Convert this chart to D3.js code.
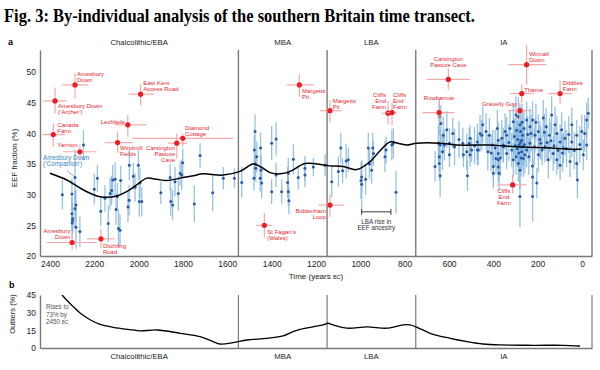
<!DOCTYPE html>
<meta charset="utf-8">
<head>
<style>
  body { margin: 0; background: #fff; }
  text { font-family: "Liberation Sans", Arial, sans-serif; }
  .title { font-family: "Liberation Serif", serif; font-weight: bold; }
  .axis text { font-size: 8.5px; fill: #222; }
  .axis path { stroke: #7a7a7a; stroke-width: 1.4px; }
  .site { font-size: 6px; fill: #e8262e; }
</style>
</head>
<body>
<script src="https://d3js.org/d3.v7.min.js"></script>
<script>
// ---- data ----
var periods = ["Chalcolithic/EBA", "MBA", "LBA", "IA"];
var periodBreaks = [2445, 1550, 1150, 750, -45];
var yearTicks = [2400, 2200, 2000, 1800, 1600, 1400, 1200, 1000, 800, 600, 400, 200, 0];
var eefTicks = [20, 25, 30, 35, 40, 45, 50];
var outlierTicks = [0, 15, 30, 45];

// smoothed EEF trend (black line, panel a)
var trendYears = [2400, 2324, 2251, 2189, 2144, 2099, 2054, 2009, 1963, 1918, 1873, 1813, 1753, 1710, 1619, 1543, 1484, 1452, 1407, 1362, 1317, 1250, 1197, 1137, 1078, 1016, 956, 908, 866, 821, 791, 746, 640, 565, 415, 295, 189, 39, 1];
var trendEEF = [33.5, 32.4, 30.8, 29.8, 29.6, 29.8, 30.5, 31.6, 32.7, 32.5, 32.3, 32.7, 33.1, 33.4, 33.2, 33.8, 35.0, 34.6, 33.6, 33.4, 33.8, 35.1, 35.0, 34.7, 34.6, 34.1, 35.4, 37.3, 38.6, 38.3, 38.1, 38.4, 38.4, 38.1, 38.1, 37.8, 37.7, 37.4, 37.4];

// outlier fraction (panel b)
var outlierYears = [2450, 2400, 2345, 2300, 2260, 2219, 2174, 2115, 2025, 1994, 1917, 1813, 1723, 1664, 1633, 1574, 1511, 1421, 1349, 1304, 1272, 1213, 1168, 1146, 1123, 1060, 970, 880, 807, 776, 744, 685, 595, 518, 447, 370, 221, 86, 9];
var outlierPct = [73, 60, 45, 36, 29, 24, 20, 17.6, 15.3, 14.5, 15.3, 12.5, 9.6, 5.4, 3.4, 4.5, 6.8, 8.2, 10.2, 13.9, 15.9, 18, 19.6, 21, 19.6, 16.8, 18, 16.8, 19.6, 19.6, 17.6, 12.5, 8.2, 5.4, 3.4, 2.6, 2.3, 2.3, 1.7];

// individuals: [year BC, EEF %, +/- error]
var samples = [
  [2344,30.0,2.4],[2301,30.1,2.5],[2301,26.9,2.8],[2298,26.1,2.5],[2298,25.8,2.2],[2300,25.4,2.5],
  [2287,27.7,3.0],[2283,28.3,2.6],[2283,24.7,3.5],[2265,24.0,2.5],[2287,32.8,4.5],[2249,38.1,2.5],
  [2186,32.7,2.2],[2200,30.9,2.5],[2171,27.3,2.4],[2152,29.4,2.2],[2137,25.3,3.0],[2129,30.2,2.6],
  [2122,30.7,2.4],[2117,32.4,2.5],[2106,32.5,2.8],[2102,27.6,2.5],[2096,29.7,2.2],[2091,24.5,3.0],
  [2084,24.2,2.6],[2081,32.3,2.4],[2048,28.0,2.5],[2043,29.1,2.5],[2042,34.8,2.5],[2024,33.0,2.2],
  [2016,31.2,2.3],[2001,34.8,2.4],[1997,28.9,2.5],[1986,28.9,2.4],[1994,31.9,2.5],[1900,30.3,1.8],
  [1858,32.8,2.2],[1855,28.9,2.3],[1847,28.3,2.5],[1836,32.1,2.4],[1821,30.2,2.8],[1813,33.5,2.0],
  [1806,33.2,2.5],[1801,35.2,2.3],[1749,28.5,3.0],[1723,36.4,2.0],[1666,30.3,3.0],[1618,32.7,1.8],
  [1568,32.7,1.6],
  [1535,32.0,2.5],[1480,32.7,2.0],[1475,35.0,2.5],[1472,34.3,2.2],[1467,36.2,2.5],[1475,40.3,2.8],
  [1478,37.3,2.5],[1450,37.6,2.6],[1452,32.7,2.2],[1448,34.0,2.4],[1445,31.9,2.5],[1400,38.4,2.8],
  [1380,39.1,2.7],[1400,30.5,2.0],[1380,33.2,2.0],[1355,30.5,2.0],[1328,32.0,2.5],[1325,30.5,2.4],
  [1322,29.0,2.2],[1325,33.5,2.5],[1302,35.8,2.5],[1280,32.8,2.0],[1250,34.3,2.0],[1250,33.2,2.0],
  [1212,34.5,1.5],
  [1159,34.8,1.8],[1129,32.1,2.5],[1099,33.8,2.5],[1088,37.6,2.5],[1080,33.9,2.0],[1064,35.5,2.8],
  [1054,35.7,2.0],[994,32.9,2.5],[997,32.3,3.0],[994,31.7,4.0],[976,32.5,2.5],[964,37.6,2.5],
  [944,37.6,2.5],[959,35.0,2.5],[949,34.0,2.2],[941,36.7,2.0],[889,36.2,2.5],[884,37.3,2.2],
  [858,38.1,2.5],[851,38.4,2.5],[839,30.4,3.5],
  [663,34.6,2.5],[648,38.4,3.0],[644,42.7,3.0],[637,41.6,3.0],[626,39.7,3.0],[621,38.1,2.5],
  [644,35.1,2.8],[640,33.1,3.5],[644,36.2,2.5],[640,38.1,2.5],[630,37.0,3.0],[610,40.6,3.0],
  [598,38.4,2.5],[583,40.0,2.5],[598,36.5,2.0],[575,37.8,3.0],[555,39.0,3.0],[538,38.4,2.5],
  [535,36.5,2.0],[520,37.0,3.0],[517,33.1,2.5],[509,38.4,2.5],[505,39.2,2.2],[505,36.5,2.0],
  [498,37.3,2.0],[485,38.0,3.0],[472,38.6,3.0],[468,37.3,2.5],[472,37.3,2.5],[460,40.0,3.0],
  [452,39.7,2.5],[448,41.4,3.0],[433,40.3,3.0],[425,37.0,3.0],[418,39.7,2.8],[410,36.8,3.0],
  [403,38.1,2.5],[400,34.6,2.5],[400,33.5,2.5],[392,37.6,3.0],[388,35.9,2.5],[382,40.8,3.0],
  [378,38.9,3.0],[378,36.7,2.5],[378,35.7,2.5],[378,34.5,2.5],[374,33.5,2.8],[368,36.0,3.0],
  [362,39.2,3.0],[355,38.1,2.8],[355,37.8,2.5],[347,40.3,3.0],[340,39.7,3.0],[340,36.7,2.5],
  [330,38.5,3.0],[325,40.8,3.0],[317,37.3,2.8],[310,41.9,3.0],[310,35.7,2.8],[305,39.5,3.0],
  [300,38.0,3.0],[298,43.0,3.0],[298,36.2,3.0],[295,40.5,3.0],[292,37.5,3.0],[290,39.0,3.0],
  [287,42.7,3.2],[287,35.1,3.0],[285,36.8,3.0],[283,38.1,3.0],[280,41.4,3.0],[280,34.0,3.0],
  [280,29.7,5.0],[278,38.5,3.2],[277,40.3,3.0],[275,36.0,3.0],[272,38.9,3.0],[272,37.0,3.0],
  [270,41.8,3.0],[268,39.7,3.0],[268,37.8,3.0],[265,35.9,3.0],[262,40.8,3.0],[260,38.2,3.0],
  [258,36.5,3.0],[250,42.2,3.0],[250,37.3,2.8],[245,39.8,3.0],[240,36.2,3.0],[235,41.1,3.0],
  [235,38.4,3.0],[230,40.0,3.0],[223,42.2,3.0],[223,34.7,3.0],[223,32.9,3.0],[223,29.7,4.0],
  [215,37.8,3.0],[212,39.7,2.8],[208,41.8,3.0],[204,31.9,2.5],[197,40.3,2.8],[197,36.5,2.8],
  [190,39.0,3.0],[186,38.4,2.8],[180,37.3,2.5],[175,42.5,3.0],[170,40.2,3.0],[167,37.8,2.5],
  [162,41.1,3.0],[158,38.5,3.0],[152,35.7,3.0],[147,39.7,2.8],[140,38.8,3.0],[137,43.0,3.0],
  [130,36.7,2.8],[126,38.0,3.0],[122,41.4,3.0],[114,40.0,2.8],[114,35.7,2.5],[108,37.2,3.0],
  [99,38.6,2.8],[99,34.8,2.5],[92,40.6,2.8],[88,36.8,3.0],[84,37.6,2.5],[77,39.2,2.8],
  [70,37.5,3.0],[60,39.8,3.0],[54,35.4,2.5],[46,41.4,2.8],[46,38.6,2.5],[35,37.2,3.0],
  [24,39.7,2.5],[24,35.1,2.5],[21,32.4,3.0],[10,38.2,3.0],[1,40.3,2.8],[-6,36.5,2.5],
  [-12,40.0,3.0],[-21,42.2,2.8],[-21,38.1,2.5],[-28,43.3,2.5]
];

// named outlier sites (red)
var siteNames = ["Amesbury\nDown", "Amesbury Down\n(\u2018Archer\u2019)", "Canada\nFarm", "Yarnton",
  "East Kent\nAccess Road", "Lechlade", "Windmill\nFields", "Carsington\nPasture\nCave", "Diamond\nCottage",
  "Amesbury\nDown", "Ditchling\nRoad", "Margetts\nPit", "Margetts\nPit", "St Fagan\u2019s\n(Wales)",
  "Biddenham\nLoop", "Cliffs\nEnd\nFarm", "Cliffs\nEnd\nFarm", "Carsington\nPasture Cave", "Rowbarrow",
  "Winnall\nDown", "Thame", "Dibbles\nFarm", "Gravelly Guy", "Cliffs\nEnd\nFarm"];
var siteYears = [2287, 2377, 2385, 2265, 1991, 2049, 2095, 1828, 1801, 2300, 2170, 1275, 1137, 1433, 1137, 875, 857, 603, 645, 250, 272, 99, 280, 313];
var siteEEF = [47.9, 45.3, 39.8, 37.0, 46.4, 41.4, 38.5, 38.4, 39.2, 22.2, 22.8, 47.9, 43.7, 25.0, 28.3, 43.3, 43.4, 48.8, 43.4, 51.2, 46.5, 46.5, 43.7, 31.6];
var siteYearLo = [2347, 2430, 2434, 2341, 2046, 2106, 2152, 1867, 2029, 2415, 2232, 1332, 1182, 1470, 1189, 905, 880, 700, 720, 332, 325, 152, 332, 382];
var siteYearHi = [2227, 2324, 2332, 2189, 1931, 1963, 2027, 1782, 1574, 2189, 2107, 1209, 1084, 1400, 1074, 845, 835, 505, 577, 162, 220, 46, 227, 250];
var siteEEFLo = [45.7, 43.3, 37.8, 35.8, 44.6, 39.5, 36.8, 35.9, 37.8, 21.0, 21.3, 46.0, 41.8, 23.0, 26.4, 41.5, 41.3, 47.1, 41.9, 47.9, 45.0, 44.8, 42.2, 30.2];
var siteEEFHi = [49.8, 47.5, 41.6, 38.2, 48.0, 43.0, 40.3, 40.0, 40.0, 24.0, 24.4, 49.6, 45.4, 27.0, 30.0, 45.3, 45.0, 50.6, 45.2, 54.4, 48.0, 48.6, 45.0, 33.2];

var riseYears = [994, 862];
var riseEEF = 27.2;

// ---- layout ----
var labelPos = [["start",2,-8.5],["start",3,7.6],["start",4,-7.8],["end",-2,-4.7],["start",2.6,-8.8],
  ["end",-2.7,-0.5],["start",2.3,7.7],["end",-1.7,6.7],["start",2.3,-8.3],["end",-1.7,-10],
  ["start",2,9],["start",2.7,8.3],["start",2.7,-8],["start",3,8.2],["end",-4,8],
  ["end",-2,-16.3],["start",1,-15.3],["middle",0,-18],["middle",0,-12.8],["start",2.6,-8.5],
  ["start",2.6,-1.8],["start",2.7,-8.3],["end",-3.3,-4.2],["middle",-8.7,8.3]];

var W = 600, H = 370;
var svg = d3.select("body").append("svg").attr("width", W).attr("height", H);

svg.append("text").attr("class", "title")
  .attr("x", 4).attr("y", 22)
  .attr("textLength", 471).attr("lengthAdjust", "spacingAndGlyphs")
  .style("font-size", "19px")
  .text("Fig. 3: By-individual analysis of the southern Britain time transect.");

var x = d3.scaleLinear().domain([2445, -45]).range([40, 592]);
var yA = d3.scaleLinear().domain([20, 53.6]).range([256, 50]);
var yB = d3.scaleLinear().domain([0, 45]).range([348, 295]);

var red = "#ee1c25", redLight = "#f6a9a9", blue = "#2a5ba6", blueLight = "#86b8e0", grey = "#7a7a7a";

// ---- panel a ----
var a = svg.append("g");

a.append("text").attr("x", 8).attr("y", 45).style("font-size", "9px").style("font-weight", "bold").text("a");

a.selectAll(".period").data(periods).enter().append("text")
  .attr("x", function(d, i) { return (x(periodBreaks[i]) + x(periodBreaks[i + 1])) / 2; })
  .attr("y", 44.5).attr("text-anchor", "middle").style("font-size", "7.8px").style("fill", "#222")
  .text(function(d) { return d; });

a.append("g").attr("class", "axis").attr("transform", "translate(0,256)")
  .call(d3.axisBottom(x).tickValues(yearTicks).tickFormat(d3.format("d")).tickSize(0).tickSizeOuter(0).tickPadding(5));
a.append("g").attr("class", "axis").attr("transform", "translate(40,0)")
  .call(d3.axisLeft(yA).tickValues(eefTicks).tickSize(0).tickSizeOuter(0).tickPadding(4));

a.selectAll(".sep").data(periodBreaks.slice(1)).enter().append("line")
  .attr("x1", function(d) { return x(d); }).attr("x2", function(d) { return x(d); })
  .attr("y1", yA(53.6)).attr("y2", yA(20))
  .style("stroke", grey).style("stroke-width", 1.4);

a.append("text").attr("x", 316).attr("y", 279).attr("text-anchor", "middle")
  .style("font-size", "8px").style("fill", "#222")
  .text("Time (years ").append("tspan").style("font-size", "5.5px").text("BC")
  .select(function() { return this.parentNode; }).append("tspan").text(")");

a.append("text").attr("transform", "translate(17,158) rotate(-90)").attr("text-anchor", "middle")
  .style("font-size", "8px").style("fill", "#222").text("EEF fraction (%)");

// individuals
a.selectAll(".err").data(samples).enter().append("line")
  .attr("x1", function(d) { return x(d[0]); }).attr("x2", function(d) { return x(d[0]); })
  .attr("y1", function(d) { return yA(d[1] - d[2]); }).attr("y2", function(d) { return yA(d[1] + d[2]); })
  .style("stroke", blueLight).style("stroke-width", 1.3).style("opacity", 0.85);
a.selectAll(".pt").data(samples).enter().append("circle")
  .attr("cx", function(d) { return x(d[0]); }).attr("cy", function(d) { return yA(d[1]); })
  .attr("r", 1.5).style("fill", blue);

// trend line
var trend = trendYears.map(function(t, i) { return [t, trendEEF[i]]; });
a.append("path").datum(trend)
  .attr("d", d3.line().x(function(d) { return x(d[0]); }).y(function(d) { return yA(d[1]); }).curve(d3.curveCatmullRom))
  .style("fill", "none").style("stroke", "#000").style("stroke-width", 1.5);

// companion label (blue)
var comp = a.append("g").style("fill", "#3b86c4").style("font-size", "6.3px");
comp.append("text").attr("x", 43).attr("y", 159.5).text("Amesbury Down");
comp.append("text").attr("x", 43).attr("y", 166).text("(\u2018Companion\u2019)");
a.append("line").attr("x1", 67).attr("y1", 170.5).attr("x2", x(2287) - 1.5).attr("y2", yA(32.8) - 1.5)
  .style("stroke", "#3b86c4").style("stroke-width", 0.7);

// red sites
var sites = siteNames.map(function(n, i) { return i; });
var sg = a.selectAll(".siteg").data(sites).enter().append("g");
sg.append("line")
  .attr("x1", function(i) { return x(siteYearLo[i]); }).attr("x2", function(i) { return x(siteYearHi[i]); })
  .attr("y1", function(i) { return yA(siteEEF[i]); }).attr("y2", function(i) { return yA(siteEEF[i]); })
  .style("stroke", redLight).style("stroke-width", 1.2);
sg.append("line")
  .attr("x1", function(i) { return x(siteYears[i]); }).attr("x2", function(i) { return x(siteYears[i]); })
  .attr("y1", function(i) { return yA(siteEEFLo[i]); }).attr("y2", function(i) { return yA(siteEEFHi[i]); })
  .style("stroke", redLight).style("stroke-width", 1.2);
sg.append("circle")
  .attr("cx", function(i) { return x(siteYears[i]); }).attr("cy", function(i) { return yA(siteEEF[i]); })
  .attr("r", 2.6).style("fill", red);
sg.each(function(i) {
  var p = labelPos[i];
  var t = d3.select(this).append("text").attr("class", "site").attr("text-anchor", p[0]);
  siteNames[i].split("\n").forEach(function(line, k) {
    t.append("tspan").attr("x", x(siteYears[i]) + p[1]).attr("y", yA(siteEEF[i]) + p[2] + k * 6).text(line);
  });
});

// LBA rise bracket
var by = yA(riseEEF);
var br = a.append("g").style("stroke", "#222").style("stroke-width", 0.9);
br.append("line").attr("x1", x(riseYears[0])).attr("x2", x(riseYears[1])).attr("y1", by).attr("y2", by);
br.append("line").attr("x1", x(riseYears[0])).attr("x2", x(riseYears[0])).attr("y1", by - 3).attr("y2", by + 3);
br.append("line").attr("x1", x(riseYears[1])).attr("x2", x(riseYears[1])).attr("y1", by - 3).attr("y2", by + 3);
var bx = (x(riseYears[0]) + x(riseYears[1])) / 2;
a.append("text").attr("x", bx).attr("y", by + 12).attr("text-anchor", "middle").style("font-size", "6.3px").style("fill", "#333").text("LBA rise in");
a.append("text").attr("x", bx).attr("y", by + 18).attr("text-anchor", "middle").style("font-size", "6.3px").style("fill", "#333").text("EEF ancestry");

// ---- panel b ----
var b = svg.append("g");
b.append("text").attr("x", 9).attr("y", 288).style("font-size", "9px").style("font-weight", "bold").text("b");

b.append("clipPath").attr("id", "clipB").append("rect").attr("x", 40).attr("y", 295).attr("width", 552).attr("height", 55);

b.append("g").attr("class", "axis").attr("transform", "translate(0,348)")
  .call(d3.axisBottom(x).tickValues([]).tickSize(0).tickSizeOuter(0));
b.append("g").attr("class", "axis").attr("transform", "translate(40,0)")
  .call(d3.axisLeft(yB).tickValues(outlierTicks).tickSize(0).tickSizeOuter(0).tickPadding(4));

b.selectAll(".sep").data(periodBreaks.slice(1)).enter().append("line")
  .attr("x1", function(d) { return x(d); }).attr("x2", function(d) { return x(d); })
  .attr("y1", yB(45)).attr("y2", yB(0))
  .style("stroke", grey).style("stroke-width", 1.2);

b.selectAll(".period").data(periods).enter().append("text")
  .attr("x", function(d, i) { return (x(periodBreaks[i]) + x(periodBreaks[i + 1])) / 2; })
  .attr("y", 359).attr("text-anchor", "middle").style("font-size", "7.8px").style("fill", "#222")
  .text(function(d) { return d; });

b.append("text").attr("transform", "translate(15,314) rotate(-90)").attr("text-anchor", "middle")
  .style("font-size", "7.5px").style("fill", "#222").text("Outliers (%)");

var outl = outlierYears.map(function(t, i) { return [t, outlierPct[i]]; });
b.append("path").datum(outl).attr("clip-path", "url(#clipB)")
  .attr("d", d3.line().x(function(d) { return x(d[0]); }).y(function(d) { return yB(d[1]); }).curve(d3.curveCatmullRom))
  .style("fill", "none").style("stroke", "#000").style("stroke-width", 1.3);

var note = b.append("g").style("font-size", "6.3px").style("fill", "#555");
note.append("text").attr("x", 46).attr("y", 309).text("Rises to");
note.append("text").attr("x", 46).attr("y", 316.5).text("73% by");
note.append("text").attr("x", 46).attr("y", 324).text("2450 ").append("tspan").style("font-size", "4.8px").text("BC");
</script>
</body>
